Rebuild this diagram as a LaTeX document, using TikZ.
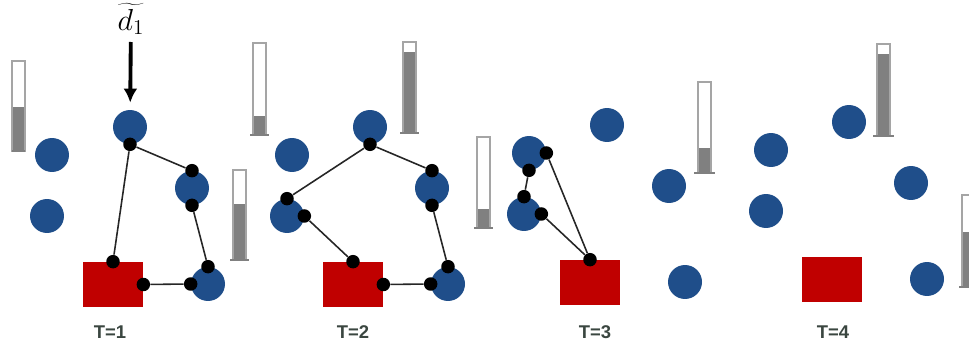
\documentclass[tikz,border=0pt]{standalone}
\usepackage{fontspec}
\newfontfamily\labelfont{Liberation Sans}
\usetikzlibrary{calc, arrows.meta}

\definecolor{siteblue}{RGB}{31,78,138}
\definecolor{depotred}{RGB}{192,0,0}
\definecolor{gaugefill}{RGB}{128,128,128}
\definecolor{gaugeline}{RGB}{165,165,165}
\definecolor{labelgray}{RGB}{58,70,64}

\begin{document}
\begin{tikzpicture}[x=0.02cm, y=-0.02cm,
        site/.style={circle, fill=siteblue, minimum size=0.68cm, inner sep=0pt},
        depot/.style={rectangle, fill=depotred, minimum width=1.2cm, minimum height=0.9cm, inner sep=0pt},
        stop/.style={circle, fill=black, minimum size=0.27cm, inner sep=0pt},
        route/.style={draw=black!85, line width=0.9pt},
        tlabel/.style={text=labelgray, font=\labelfont\bfseries\fontsize{10.5}{12}\selectfont}]
    \useasboundingbox (0,0) rectangle (969,347);

    % gauges: left x, top, bottom, level, base overhang
    \foreach \gx/\gt/\gb/\gf/\bw in {12/61/151/107/0, 233/170/260/204/3, 253/43/135/116/3,
            403/42/133/52/3, 477/137/228/209/3, 698/82/173/148/4, 877/44/136/54/4, 962/195/287/232/3}{
        \fill[gaugefill] (\gx,\gf) rectangle ({\gx+13},\gb);
        \draw[gaugeline, line width=1.2pt] (\gx,\gt) rectangle ({\gx+13},\gb);
        \draw[gaugefill, line width=1.2pt] ({\gx-\bw},\gb) -- ({\gx+13+\bw},\gb);
    }

    % the four time steps
    \foreach \dx/\dy/\t/\lx in {0/0/1/110, 240/0/2/353, 477/-2/3/595, 719/-5/4/833}{
        \node[site] (c\t-1) at ({130+\dx},{127+(\dy)}) {};
        \node[site] (c\t-2) at ({52+\dx},{155+(\dy)}) {};
        \node[site] (c\t-3) at ({47+\dx},{216+(\dy)}) {};
        \node[site] (c\t-4) at ({192+\dx},{188+(\dy)}) {};
        \node[site] (c\t-5) at ({208+\dx},{284+(\dy)}) {};
        \node[depot] (d\t) at ({113+\dx},{284.5+(\dy)}) {};
        \node[tlabel] (t\t) at (\lx,332) {T=\t};
    }

    % demand arrow
    \node[inner sep=1pt] (dlab) at (131,19) {\fontsize{18}{20}\selectfont$\widetilde{d_1}$};
    \draw[->, >={Latex[length=8pt,width=8pt]}, line width=2.2pt, shorten <=3pt, shorten >=4pt] (dlab) -- (c1-1);

    % T=1
    \node[stop] (s1a) at (c1-1.south) {};
    \node[stop] (s1b) at (c1-4.north) {};
    \node[stop] (s1c) at (c1-4.south) {};
    \node[stop] (s1d) at (c1-5.north) {};
    \node[stop] (s1e) at (c1-5.west) {};
    \node[stop] (s1f) at (d1.east) {};
    \node[stop] (s1g) at (d1.north) {};
    \draw[route] (s1a) -- (s1b) (s1c) -- (s1d) (s1e) -- (s1f) (s1g) -- (s1a);

    % T=2
    \node[stop] (s2a) at (c2-1.south) {};
    \node[stop] (s2b) at (c2-4.north) {};
    \node[stop] (s2c) at (c2-4.south) {};
    \node[stop] (s2d) at (c2-5.north) {};
    \node[stop] (s2e) at (c2-5.west) {};
    \node[stop] (s2f) at (d2.east) {};
    \node[stop] (s2g) at (d2.north) {};
    \node[stop] (s2h) at (c2-3.east) {};
    \node[stop] (s2i) at (c2-3.north) {};
    \draw[route] (s2a) -- (s2b) (s2c) -- (s2d) (s2e) -- (s2f) (s2g) -- (s2h) (s2i) -- (s2a);

    % T=3
    \node[stop] (s3a) at (c3-2.east) {};
    \node[stop] (s3b) at (c3-2.south) {};
    \node[stop] (s3c) at (c3-3.north) {};
    \node[stop] (s3d) at (c3-3.east) {};
    \node[stop] (s3e) at (d3.north) {};
    \draw[route] (s3a) -- (s3e) (s3d) -- (s3e) (s3b) -- (s3c);
\end{tikzpicture}
\end{document}
